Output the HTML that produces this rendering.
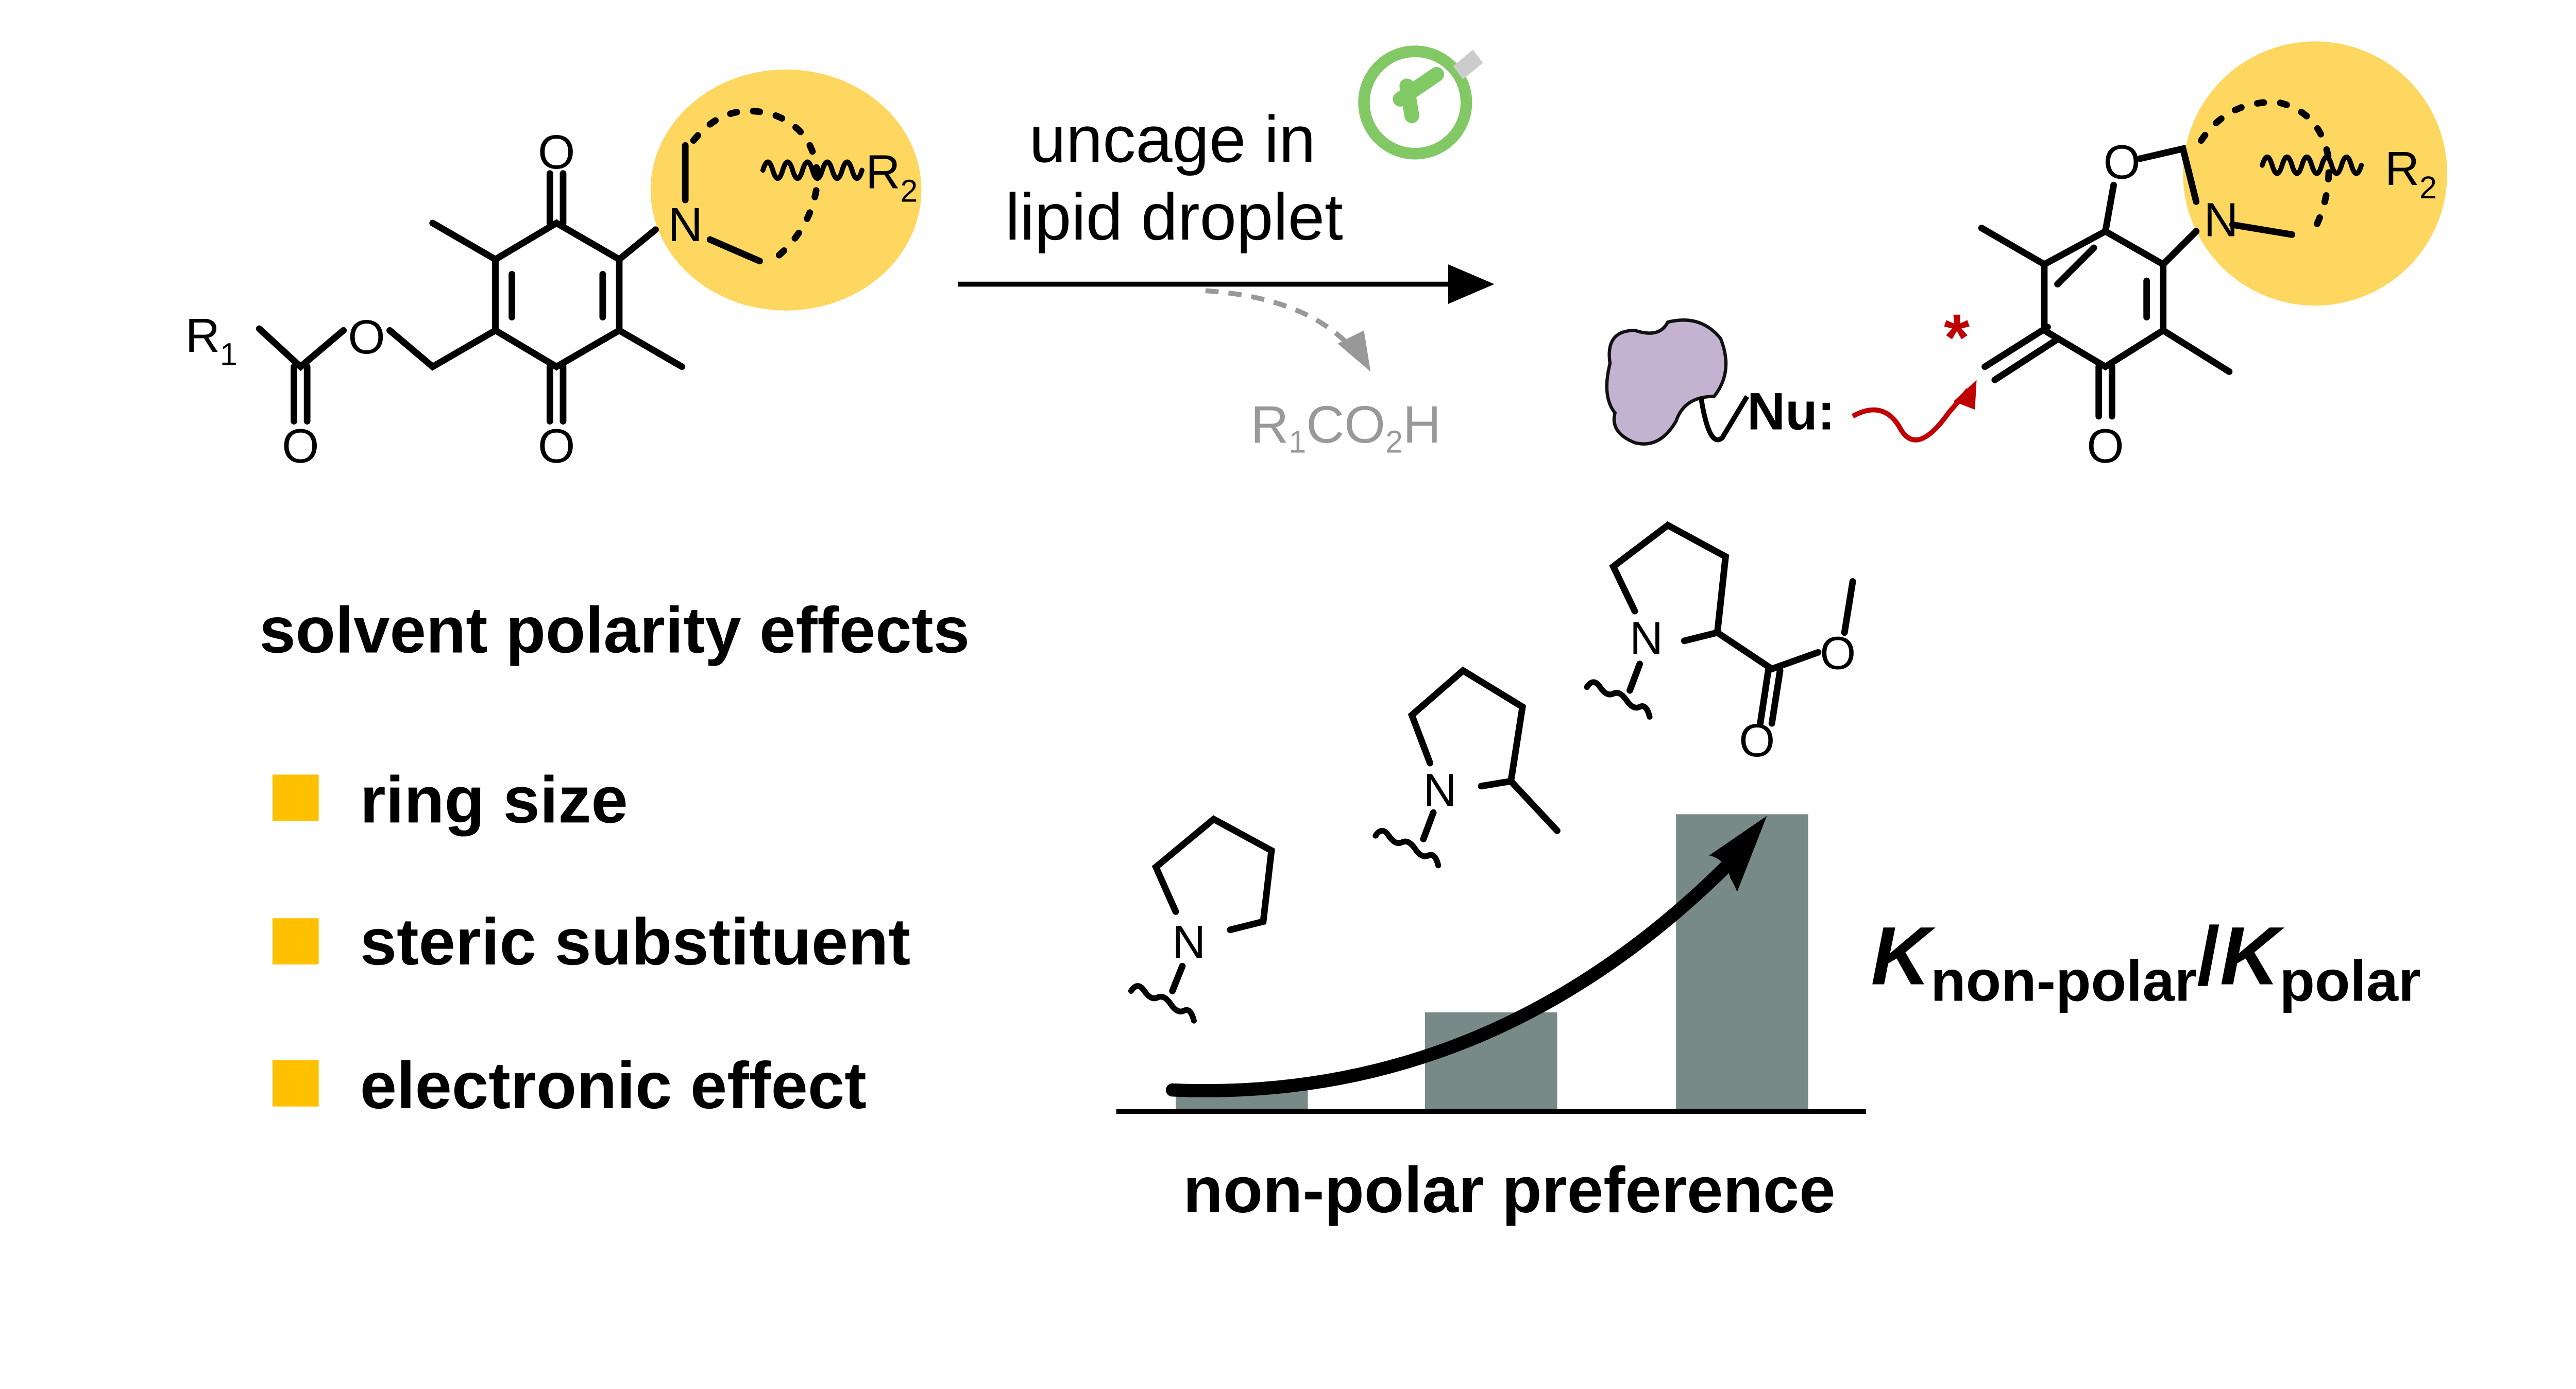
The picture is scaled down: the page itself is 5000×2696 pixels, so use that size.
<!DOCTYPE html>
<html><head><meta charset="utf-8"><style>
html,body{margin:0;padding:0;background:#fff;}
svg{display:block;}
text{font-family:"Liberation Sans",Arial,sans-serif;}
</style></head><body>
<svg width="5000" height="2696" viewBox="0 0 1560 841" xmlns="http://www.w3.org/2000/svg">
<rect width="1560" height="841" fill="#fff"/>
<ellipse cx="476" cy="115" rx="82" ry="73" fill="#FED761"/>
<ellipse cx="1402" cy="105" rx="80" ry="80" fill="#FED761"/>

<!-- left molecule -->
<g stroke="#000" stroke-width="4" fill="none" stroke-linecap="round">
<path d="M337,135 L300,157 L300,200 L337,222 L375,200 L375,157 Z"/>
<path d="M310,166 L310,192 M365,166 L365,192"/>
<path d="M333,135 L333,105 M341,135 L341,105"/>
<path d="M333,222 L333,255 M341,222 L341,255"/>
<path d="M300,157 L262,135 M375,200 L413,222 M375,157 L397,139"/>
<path d="M300,200 L262,222 L236,200"/>
<path d="M208,200 L182,222 L157,199"/>
<path d="M178,222 L178,255 M186,222 L186,255"/>
<path d="M415,121 L415,88 M430,145 L460,158"/>
<path d="M420,85 Q440,60 470,70 Q495,80 495,110 Q492,140 465,160" stroke-dasharray="4,10"/>
<path d="M462,103 q3,-10 6,0 t6,0 t6,0 t6,0 t6,0 t6,0 t6,0 t6,0 t6,0 t6,0" stroke-width="3"/>
</g>
<g font-size="29" text-anchor="middle">
<text x="337" y="102">O</text>
<text x="337" y="280">O</text>
<text x="182" y="280">O</text>
<text x="222" y="214">O</text>
<text x="415" y="146">N</text>
<text x="128" y="213">R<tspan font-size="19" dy="8">1</tspan></text>
<text x="540" y="114">R<tspan font-size="19" dy="8">2</tspan></text>
</g>

<!-- reaction arrow -->
<line x1="580" y1="172" x2="880" y2="172" stroke="#000" stroke-width="3"/>
<path d="M905,172 L877,160 L877,184Z" fill="#000"/>
<text x="710" y="98" font-size="40" text-anchor="middle">uncage in</text>
<text x="711" y="145" font-size="40" text-anchor="middle">lipid droplet</text>
<path d="M730,176 Q790,180 818,210" stroke="#999" stroke-width="3" fill="none" stroke-dasharray="8,6"/>
<path d="M830,225 L810,208 L826,200Z" fill="#999"/>
<text x="815" y="268" font-size="32" fill="#999" text-anchor="middle">R<tspan font-size="19" dy="6">1</tspan><tspan dy="-6">CO</tspan><tspan font-size="19" dy="6">2</tspan><tspan dy="-6">H</tspan></text>
<circle cx="857" cy="62" r="31" fill="none" stroke="#6CC04A" stroke-width="7" opacity="0.85"/>
<path d="M848,60 L870,45 M855,70 L852,52" stroke="#6CC04A" stroke-width="9" stroke-linecap="round" opacity="0.85"/>
<path d="M880,40 l12,-10 l6,8 l-12,10z" fill="#ccc"/>

<!-- right molecule -->
<g stroke="#000" stroke-width="4" fill="none" stroke-linecap="round">
<path d="M1275,140 L1238,160 L1238,200 L1275,222 L1310,200 L1310,160 Z"/>
<path d="M1246,172 L1268,150 M1300,170 L1300,192"/>
<path d="M1238,160 L1200,138 M1310,200 L1350,225 M1310,160 L1330,140"/>
<path d="M1275,140 L1280,112 M1296,96 L1322,90 L1330,122"/>
<path d="M1240,198 L1202,222 M1245,206 L1208,230"/>
<path d="M1271,222 L1271,252 M1279,222 L1279,252"/>
<path d="M1352,136 L1388,142"/>
<path d="M1333,85 Q1350,60 1380,62 Q1405,68 1410,95 Q1412,120 1400,142" stroke-dasharray="4,10"/>
<path d="M1370,100 q3,-10 6,0 t6,0 t6,0 t6,0 t6,0 t6,0 t6,0 t6,0 t6,0 t6,0" stroke-width="3"/>
</g>
<g font-size="29" text-anchor="middle">
<text x="1285" y="108">O</text>
<text x="1345" y="143">N</text>
<text x="1275" y="280">O</text>
<text x="1460" y="112">R<tspan font-size="19" dy="8">2</tspan></text>
</g>
<text x="1185" y="218" font-size="40" font-weight="bold" fill="#C00000" text-anchor="middle">*</text>
<path d="M975,220 Q972,200 990,200 Q1005,205 1010,195 Q1030,190 1042,205 Q1050,225 1038,240 Q1020,240 1015,255 Q1005,272 990,268 Q975,262 978,250 Q970,240 975,220Z" fill="#C3B3D0" stroke="#111" stroke-width="2"/>
<path d="M1030,240 Q1035,272 1043,265 L1058,240" stroke="#000" stroke-width="3" fill="none"/>
<text x="1058" y="260" font-size="32" font-weight="bold">Nu:</text>
<path d="M1122,252 Q1140,242 1150,258 Q1160,278 1180,250 L1192,236" stroke="#C00000" stroke-width="3" fill="none"/>
<path d="M1197,230 L1183,243 L1196,248Z" fill="#C00000"/>

<!-- left list -->
<text x="157" y="395" font-size="39.5" font-weight="bold">solvent polarity effects</text>
<rect x="165" y="469" width="28" height="28" fill="#FFC000"/>
<rect x="165" y="556" width="28" height="28" fill="#FFC000"/>
<rect x="165" y="642" width="28" height="28" fill="#FFC000"/>
<text x="218" y="498" font-size="40" font-weight="bold">ring size</text>
<text x="218" y="584" font-size="40" font-weight="bold">steric substituent</text>
<text x="218" y="671" font-size="40" font-weight="bold">electronic effect</text>

<!-- bar chart -->
<rect x="712" y="660" width="80" height="13" fill="#778A87"/>
<rect x="863" y="613" width="80" height="60" fill="#778A87"/>
<rect x="1015" y="493" width="80" height="180" fill="#778A87"/>
<line x1="676" y1="673" x2="1130" y2="673" stroke="#000" stroke-width="3"/>
<path d="M710,660 Q900,668 1045,525" stroke="#000" stroke-width="8" fill="none" stroke-linecap="round"/>
<path d="M1070,494 L1035,518 Q1045,520 1048,532 Q1050,535 1052,540Z" fill="#000"/>
<text x="914" y="734" font-size="39.5" font-weight="bold" text-anchor="middle">non-polar preference</text>
<text x="1133" y="596" font-size="50" font-weight="bold"><tspan font-style="italic">K</tspan><tspan font-size="35" dy="10">non-polar</tspan><tspan dy="-10">/</tspan><tspan font-style="italic">K</tspan><tspan font-size="35" dy="10">polar</tspan></text>

<!-- pyrrolidines -->
<g stroke="#000" stroke-width="4" fill="none" stroke-linecap="round">
<path d="M712,552 L700,525 L735,496 L770,515 L765,558 L745,563"/>
<path d="M716,585 L710,600"/>
<path d="M685,600 q4,-6 8,0 t8,4 t8,4 t8,4 t6,6" stroke-width="3.5"/>
<path d="M866,462 L855,433 L886,406 L922,428 L915,473 L897,476 M915,473 L943,503"/>
<path d="M868,492 L862,508"/>
<path d="M833,506 q4,-6 8,0 t8,4 t8,4 t8,4 t6,6" stroke-width="3.5"/>
<path d="M990,370 L977,343 L1010,318 L1045,337 L1040,383 L1020,388 M1040,383 L1073,405 L1101,395 M1071,405 L1066,438 M1078,406 L1073,438 M1117,383 L1122,352"/>
<path d="M993,402 L987,418"/>
<path d="M961,416 q4,-6 8,0 t8,4 t8,4 t8,4 t6,6" stroke-width="3.5"/>
</g>
<g font-size="28" text-anchor="middle">
<text x="720" y="580">N</text>
<text x="872" y="488">N</text>
<text x="997" y="396">N</text>
<text x="1113" y="405">O</text>
<text x="1064" y="458">O</text>
</g>
</svg>
</body></html>
